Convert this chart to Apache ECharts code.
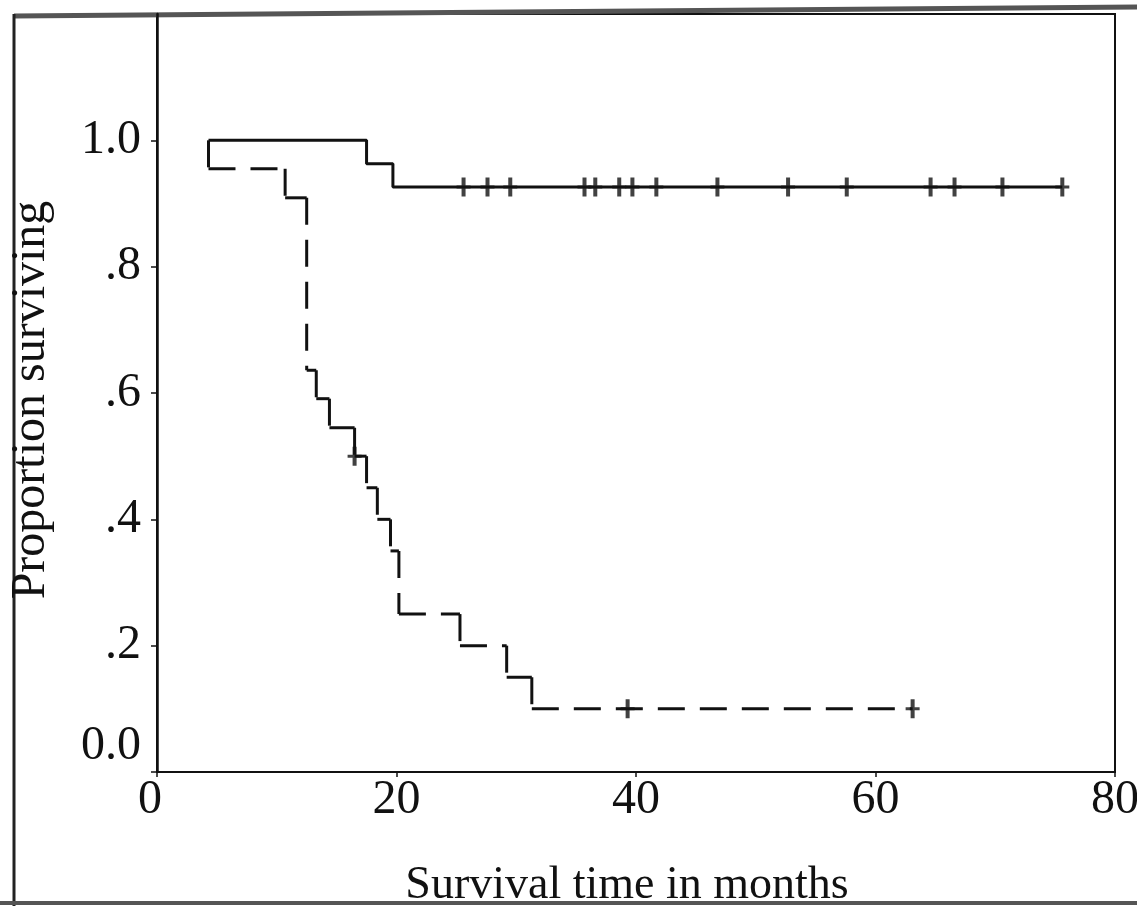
<!DOCTYPE html>
<html>
<head>
<meta charset="utf-8">
<title>Proportion surviving</title>
<script src="https://cdn.jsdelivr.net/npm/echarts@6/dist/echarts.min.js"></script>
<style>
  html, body { margin: 0; padding: 0; background: #fff; }
  #chart { width: 1137px; height: 906px; }
</style>
</head>
<body>
<div id="chart"></div>
<script>
// months; each value holds from its time until the next time
const solidTimes = [4.3, 17.5, 19.7, 75.6]
const solidSurvival = [1.0, 0.963, 0.926, 0.926]
const solidCensorTimes = [25.6, 27.6, 29.5, 35.7, 36.6, 38.6, 39.7, 41.7, 46.8, 52.7, 57.6, 64.6, 66.6, 70.6, 75.6]

const dashedTimes = [4.3, 10.7, 12.5, 13.3, 14.4, 16.5, 17.5, 18.4, 19.5, 20.2, 25.3, 29.2, 31.3, 63.1]
const dashedSurvival = [0.955, 0.909, 0.636, 0.591, 0.545, 0.5, 0.45, 0.4, 0.35, 0.25, 0.2, 0.15, 0.1, 0.1]
const dashedCensorTimes = [16.5, 39.3, 63.1]

const xTicks = [0, 20, 40, 60, 80]
const yTicks = [0, 0.2, 0.4, 0.6, 0.8, 1.0]

const serif = '"Liberation Serif", "DejaVu Serif", serif'
const ink = '#111'

// survival at time t
function valueAt(times, values, t) {
  let v = values[0]
  for (let i = 0; i < times.length; i++) {
    if (times[i] <= t) v = values[i]
  }
  return v
}

// one drop + following flat part per item; each line restarts its dash pattern
const dashedSegments = dashedTimes.slice(0, -1).map((t, i) => [
  t, dashedTimes[i + 1], i === 0 ? 1.0 : dashedSurvival[i - 1], dashedSurvival[i],
])

const plusSymbol = 'path://M5,0h4v8h5v3h-5v8h-4v-8h-5v-3h5z'

const chart = echarts.init(document.getElementById('chart'))

chart.setOption({
  backgroundColor: '#fff',
  animation: false,
  grid: {
    left: 157,
    right: 22,
    top: 14,
    bottom: 134,
    containLabel: false,
    outerBoundsMode: 'none',
    show: true,
    borderColor: ink,
    borderWidth: 2,
  },
  xAxis: {
    type: 'value',
    min: 0,
    max: 80,
    interval: 20,
    name: 'Survival time in months',
    nameLocation: 'middle',
    nameGap: 91,
    nameTextStyle: { fontFamily: serif, fontSize: 46, color: ink, padding: [0, 18, 0, 0] },
    axisLine: { lineStyle: { color: ink, width: 2 } },
    axisTick: { show: true, length: 5, lineStyle: { color: ink, width: 1.5 } },
    splitLine: { show: false },
    axisLabel: {
      margin: 4,
      fontFamily: serif,
      fontSize: 48,
      color: ink,
      formatter: v => (xTicks.includes(v) ? (v === 0 ? '{o|0}' : String(v)) : ''),
      rich: { o: { fontFamily: serif, fontSize: 48, color: ink, padding: [0, 14, 0, 0] } },
    },
  },
  yAxis: {
    type: 'value',
    min: 0,
    max: 1.2,
    interval: 0.2,
    name: 'Proportion surviving',
    nameLocation: 'middle',
    nameRotate: 90,
    nameGap: 102,
    nameTextStyle: { fontFamily: serif, fontSize: 48, color: ink, padding: [0, 14, 0, 0] },
    axisLine: { show: true, lineStyle: { color: ink, width: 2.5 } },
    axisTick: { show: true, length: 6, lineStyle: { color: ink, width: 1.5 } },
    splitLine: { show: false },
    axisLabel: {
      margin: 16,
      fontFamily: serif,
      fontSize: 48,
      color: ink,
      showMaxLabel: false,
      formatter: v => {
        const k = Math.round(v * 10)
        if (!yTicks.some(t => Math.round(t * 10) === k)) return ''
        if (k === 0) return '{z|0.0}'
        if (k === 10) return '1.0'
        return '.' + k
      },
      rich: { z: { fontFamily: serif, fontSize: 48, color: ink, padding: [0, 0, 52, 0] } },
    },
  },
  graphic: [
    { type: 'line', shape: { x1: 14, y1: 16, x2: 1137, y2: 7 }, style: { stroke: '#555', lineWidth: 5 } },
    { type: 'line', shape: { x1: 14, y1: 14, x2: 14, y2: 906 }, style: { stroke: '#222', lineWidth: 3 } },
    { type: 'line', shape: { x1: 0, y1: 903, x2: 1137, y2: 903 }, style: { stroke: '#555', lineWidth: 4 } },
  ],
  series: [
    {
      name: 'solid',
      type: 'line',
      step: 'end',
      symbol: 'none',
      lineStyle: { color: ink, width: 3 },
      data: solidTimes.map((t, i) => [t, solidSurvival[i]]),
    },
    {
      name: 'dashed',
      type: 'custom',
      data: dashedSegments,
      renderItem: (params, api) => {
        const top = api.coord([api.value(0), api.value(2)])
        const drop = api.coord([api.value(0), api.value(3)])
        const end = api.coord([api.value(1), api.value(3)])
        const style = { stroke: ink, lineWidth: 3, fill: null, lineDash: [27, 15] }
        return {
          type: 'group',
          children: [
            { type: 'line', shape: { x1: top[0], y1: top[1], x2: drop[0], y2: drop[1] }, style },
            { type: 'line', shape: { x1: drop[0], y1: drop[1], x2: end[0], y2: end[1] }, style },
          ],
        }
      },
    },
    {
      name: 'solid censored',
      type: 'scatter',
      symbol: plusSymbol,
      symbolSize: [14, 19],
      itemStyle: { color: ink },
      data: solidCensorTimes.map(t => [t, valueAt(solidTimes, solidSurvival, t)]),
    },
    {
      name: 'dashed censored',
      type: 'scatter',
      symbol: plusSymbol,
      symbolSize: [14, 19],
      itemStyle: { color: ink },
      data: dashedCensorTimes.map(t => [t, valueAt(dashedTimes, dashedSurvival, t)]),
    },
  ],
})
</script>
</body>
</html>
